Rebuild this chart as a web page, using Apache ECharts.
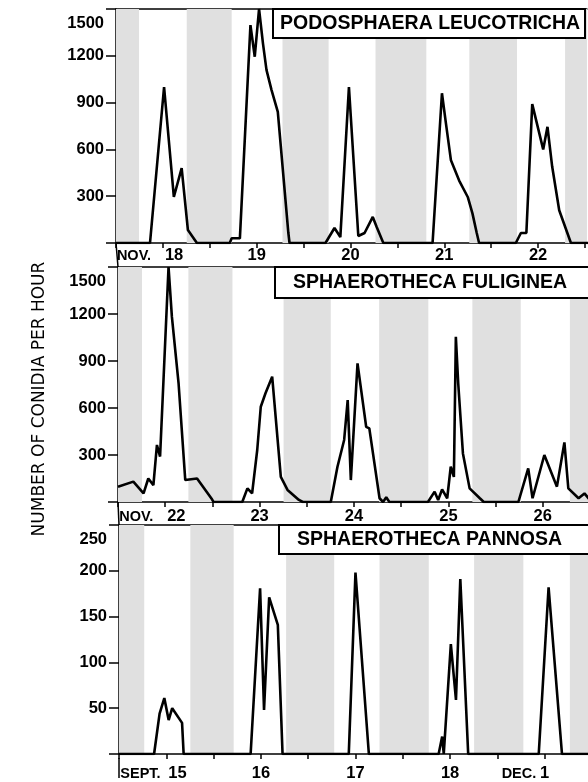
<!DOCTYPE html>
<html><head><meta charset="utf-8">
<script src="https://cdn.jsdelivr.net/npm/echarts@6/dist/echarts.min.js"></script>
<style>html,body{margin:0;padding:0;background:#fff}#c{width:588px;height:782px}</style>
</head><body><div id="c"></div>
<script>
// ---- Panel 1: Podosphaera leucotricha (hours after midnight of Nov 18) ----
const hours1 = [-12,-3.3,0.3,2.8,4.8,6.4,8.7,17.1,17.6,19.7,22.4,23.5,24.6,25.6,26.5,27.8,29.4,32.1,32.4,41.6,43.9,45.4,47.6,50,51.6,53.7,54.7,56.4,69,71.4,72.4,73.7,75.8,78,79.2,80.3,80.9,90.3,91.6,93,94.5,97.3,98.4,99.6,101.4,104.4,120];
const counts1 = [0,0,1000,295,480,83,0,0,30,30,1397,1194,1500,1280,1110,980,840,64,0,0,96,38,1000,45,64,167,103,0,0,960,770,530,400,295,190,64,0,0,64,64,890,600,745,490,210,0,0];
// ---- Panel 2: Sphaerotheca fuliginea (hours after midnight of Nov 22) ----
const hours2 = [-12,-8.1,-5.5,-4.3,-3,-2.1,-1.3,0.85,1.7,3.4,5.1,8.1,11.9,12.3,19.6,20.9,22.1,23.4,24.3,25.5,27.2,29.4,31.1,34,35,42.1,43.8,45.5,46.4,47.2,48.9,51.1,51.9,54.5,55.4,56.2,57,66.8,68.5,69.4,70.4,71.7,72.6,73.4,73.9,74.5,75.7,77.4,80,81,89.8,92.3,93.4,96.4,99.6,101.5,102.5,105.1,106.6,108,109.5,120];
const counts2 = [98,130,55,150,108,364,290,1500,1183,758,140,150,17,0,0,87,55,332,608,694,800,160,77,13,0,0,225,396,650,140,885,480,470,24,0,30,0,0,66,13,80,24,225,160,1055,758,310,87,24,0,0,215,24,300,98,380,87,24,55,13,0,0];
// ---- Panel 3: Sphaerotheca pannosa (hours after midnight of Sept 15) ----
const hours3 = [-12,-3.1,-1.7,-0.5,0.6,1.5,4,4.4,21.4,23.8,24.8,26.1,28.3,29.5,46.3,48,51.4,69.1,70,70.4,72.2,73.5,74.6,76.6,94.5,97,100.4,120];
const counts3 = [0,0,44,61,37,50,34,0,0,181,48,171,141,0,0,198,0,0,19,0,120,59,191,0,0,182,0,0];

// dark periods (hours)
const nights1 = [[-12,-6.1],[6.1,17.6],[30.6,42.4],[54.4,67.4],[78.4,90.6],[102.9,120]];
const nights2 = [[-12,-5.9],[5.9,17.1],[30.1,42.1],[54.4,66.9],[78.1,90.4],[102.9,120]];
const nights3 = [[-12,-5.6],[6.1,17.1],[30.4,42.6],[54.1,66.6],[78.1,90.6],[102.4,120]];

const dayLabels1 = ['NOV. 18','19','20','21','22'];
const dayLabels2 = ['NOV. 22','23','24','25','26'];
const dayLabels3 = ['SEPT. 15','16','17','18','DEC.1'];

const yMax = [1500, 1500, 250];
const yStep = [300, 300, 50];
const titles = ['PODOSPHAERA LEUCOTRICHA','SPHAEROTHECA FULIGINEA','SPHAEROTHECA PANNOSA'];
const yTitle = 'NUMBER OF CONIDIA PER HOUR';

const NUMF = "'Liberation Sans',Arial,sans-serif";
const grids = [
  {left:116, top:9, right:0, height:234},
  {left:118, top:267, right:0, height:235},
  {left:119, top:525, right:0, height:233}
];
const xMax = [108.5, 107.5, 107];
const labelMargins = [4, 6, 11];
const allHours = [hours1, hours2, hours3];
const allCounts = [counts1, counts2, counts3];
const allNights = [nights1, nights2, nights3];
const allDayLabels = [dayLabels1, dayLabels2, dayLabels3];

function xFormatter(labels) {
  return function (v) {
    if (v < 0 || v % 24 !== 0) return '';
    const lab = labels[v / 24];
    if (lab === undefined) return '';
    const m = lab.match(/^([A-Z]+\.)\s*(\d+)$/);
    if (m) {
      if (lab.indexOf(' ') >= 0) return '{m|' + m[1] + '}{d|' + m[2] + '}{s| }';
      return '{m2|' + m[1] + '}{d2|' + m[2] + '}{s2| }';
    }
    return lab;
  };
}
const numFont = {fontFamily: NUMF, fontWeight: 'bold', fontSize: 16.5, color: '#000'};
const blackLine = {color: '#000', width: 1.5};

const bottomAxes = grids.map((g, i) => ({
  type: 'value', gridIndex: i, position: 'bottom', min: -12, max: xMax[i], interval: 12,
  axisLine: {show: true, onZero: false, lineStyle: blackLine},
  axisTick: {show: true, length: 5, lineStyle: blackLine},
  splitLine: {show: false},
  axisLabel: Object.assign({
    margin: labelMargins[i], formatter: xFormatter(allDayLabels[i]),
    showMinLabel: true, showMaxLabel: false, hideOverlap: false,
    rich: {
      m: {fontFamily: NUMF, fontWeight: 'bold', fontSize: 14.5, width: 48, align: 'left', color: '#000'},
      d: {fontFamily: NUMF, fontWeight: 'bold', fontSize: 16.5, width: 20, align: 'left', color: '#000'},
      s: {width: 24, fontSize: 16.5},
      m2: {fontFamily: NUMF, fontWeight: 'bold', fontSize: 14.5, width: 38, align: 'left', color: '#000'},
      d2: {fontFamily: NUMF, fontWeight: 'bold', fontSize: 16.5, width: 10, align: 'center', color: '#000'},
      s2: {width: 38, fontSize: 16.5}
    }
  }, numFont)
}));
const topAxes = grids.map((g, i) => ({
  type: 'value', gridIndex: i, position: 'top', min: -12, max: xMax[i],
  axisLine: {show: true, onZero: false, lineStyle: blackLine},
  axisTick: {show: false}, axisLabel: {show: false}, splitLine: {show: false}
}));

const option = {
  animation: false,
  backgroundColor: '#fff',
  grid: grids.map(g => Object.assign({show: false}, g)),
  title: titles.map((t, i) => ({
    text: t,
    left: [273, 275, 279][i],
    top: [9, 267, 525][i],
    padding: [[5,5,4,7],[6,40,5,18],[5,40,4,18]][i],
    borderColor: '#000', borderWidth: 2, backgroundColor: '#fff',
    textStyle: {fontFamily: "'Liberation Sans',Arial,sans-serif", fontWeight: 'bold', fontSize: 19.5, lineHeight: 20, color: '#000'},
    z: 10
  })),
  xAxis: bottomAxes.concat(topAxes),
  yAxis: grids.map((g, i) => ({
    type: 'value', gridIndex: i, min: 0, max: yMax[i], interval: yStep[i],
    axisLine: {show: true, onZero: false, lineStyle: blackLine},
    axisTick: {show: true, length: 10, lineStyle: blackLine},
    splitLine: {show: false},
    axisLabel: Object.assign({
      margin: 12,
      formatter: v => v === 0 ? '' : (v === yMax[i] ? '{t|' + v + '}' : String(v)),
      rich: {t: {fontFamily: NUMF, fontWeight: 'bold', fontSize: 16.5, color: '#000', padding: [29, 0, 0, 0]}}
    }, numFont)
  })),
  series: grids.map((g, i) => ({
    type: 'line', xAxisIndex: i, yAxisIndex: i,
    data: allHours[i].map((h, k) => [h, allCounts[i][k]]),
    symbol: 'none', lineStyle: {color: '#000', width: 2.6}, z: 3,
    markArea: {
      silent: true,
      itemStyle: {color: '#e0e0e0'},
      data: allNights[i].map(n => [{xAxis: n[0]}, {xAxis: n[1]}])
    }
  })),
  graphic: [
    {type: 'text', x: 40, y: 399, rotation: Math.PI / 2,
     style: {text: yTitle, font: '17px "DejaVu Sans", sans-serif', fill: '#000', align: 'center', verticalAlign: 'middle'}},
    {type: 'line', shape: {x1: 116, y1: 243, x2: 118, y2: 267}, style: {stroke: '#000', lineWidth: 1.5}},
    {type: 'line', shape: {x1: 118, y1: 502, x2: 119, y2: 525}, style: {stroke: '#000', lineWidth: 1.5}},
    {type: 'line', shape: {x1: 119, y1: 758, x2: 119, y2: 778}, style: {stroke: '#000', lineWidth: 1.5}}
  ]
};
echarts.init(document.getElementById('c')).setOption(option);
</script>
</body></html>
